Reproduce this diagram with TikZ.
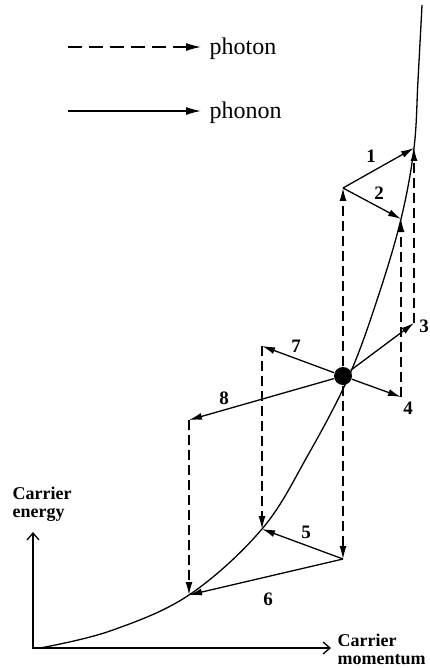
\documentclass[tikz,border=0pt]{standalone}
\usepackage{fontspec}
\setmainfont{Liberation Serif}
\usetikzlibrary{arrows.meta}
\begin{document}
\begin{tikzpicture}[x=1pt,y=-1pt,
  line width=1.3pt,
  phonon/.style={-{Latex[length=13pt,width=7pt]}},
  photon/.style={-{Latex[length=13pt,width=7pt]},dash pattern=on 10pt off 5pt},
  legphoton/.style={-{Latex[length=15pt,width=8pt]},dash pattern=on 14pt off 7pt},
  legphonon/.style={-{Latex[length=15pt,width=8pt]}},
  num/.style={font=\fontsize{19}{19}\selectfont\bfseries, inner sep=0pt},
  axlab/.style={font=\fontsize{18}{18}\selectfont\bfseries, align=left, inner sep=0pt, anchor=north west},
  leg/.style={font=\fontsize{24}{24}\selectfont, inner sep=0pt, anchor=base west},
  axis/.style={{Straight Barb[length=7pt,width=12pt]}-{Straight Barb[length=7pt,width=12pt]}}]
\useasboundingbox (0,0) rectangle (430,668);

% legend
\coordinate (l1a) at (68,47);
\coordinate (l1b) at (201,47);
\coordinate (l2a) at (68,111);
\coordinate (l2b) at (201,111);
\draw[legphoton] (l1a) -- (l1b);
\draw[legphonon] (l2a) -- (l2b);
\node[leg] (tphoton) at (209,55) {photon};
\node[leg] (tphonon) at (209,119) {phonon};

% axes
\coordinate (O) at (33,648);
\coordinate (Ey) at (33,532);
\coordinate (Ex) at (331,648);
\draw[axis] (Ey) -- (O) -- (Ex);
\node[axlab] (ylab) at (12,486) {Carrier\\energy};
\node[axlab] (xlab) at (337,633) {Carrier\\momentum};

% dispersion curve
\draw plot[smooth, tension=0.6] coordinates {(40,648) (110,631) (189,595) (262,529) (308,455) (349,376) (378,297) (401,219) (414,148) (418,80) (422,5)};

% points
\coordinate (p1) at (414,148);
\coordinate (p2) at (401,219);
\coordinate (p5) at (262,529);
\coordinate (p6) at (189,595);
\coordinate (p3) at (414,323);
\coordinate (p4) at (401,397);
\coordinate (p7) at (262,346);
\coordinate (p8) at (189,420);
\coordinate (top) at (343,188);
\coordinate (bot) at (343,559);
\node[circle, fill, inner sep=0pt, minimum size=18pt] (dot) at (343,376) {};

% photon (vertical dashed) transitions
\draw[photon] (dot) -- (top);
\draw[photon] (dot) -- (bot);
\draw[photon] (p3) -- (p1);
\draw[photon] (p4) -- (p2);
\draw[photon] (p7) -- (p5);
\draw[photon] (p8) -- (p6);

% phonon transitions
\draw[phonon] (top) -- (p1);
\draw[phonon] (top) -- (p2);
\draw[phonon] (dot) -- (p3);
\draw[phonon] (dot) -- (p4);
\draw[phonon] (bot) -- (p5);
\draw[phonon] (bot) -- (p6);
\draw[phonon] (dot) -- (p7);
\draw[phonon] (dot) -- (p8);

% labels
\node[num] (n1) at (371,156) {1};
\node[num] (n2) at (379,193) {2};
\node[num] (n3) at (424,326) {3};
\node[num] (n4) at (408,408) {4};
\node[num] (n5) at (306,532) {5};
\node[num] (n6) at (268,599) {6};
\node[num] (n7) at (296,346) {7};
\node[num] (n8) at (224,398) {8};
\end{tikzpicture}
\end{document}
